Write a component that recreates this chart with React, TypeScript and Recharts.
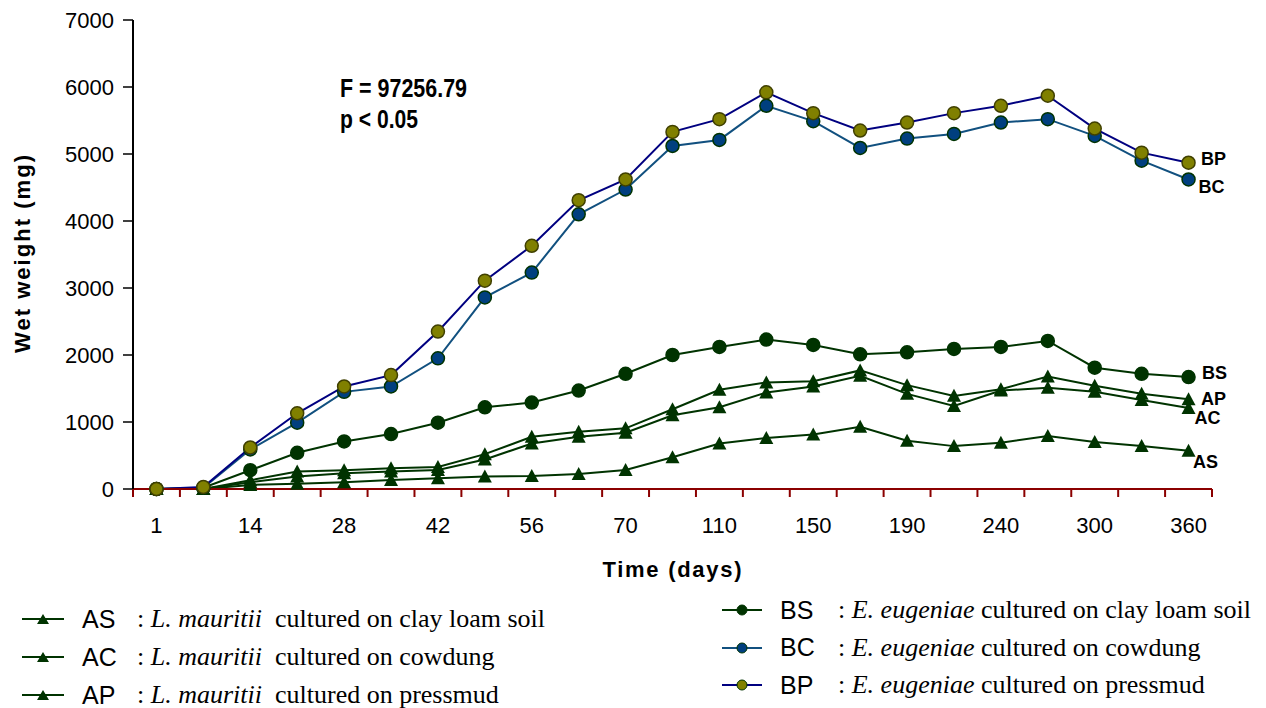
import { LineChart, Line, XAxis, YAxis, LabelList } from 'recharts';

// sampling days (only every other one is labelled on the axis)
const days = [1, 7, 14, 21, 28, 35, 42, 49, 56, 63, 70, 90, 110, 130, 150, 170, 190, 210, 240, 270, 300, 330, 360];

// L. mauritii
const asValues = [0, 0, 60, 80, 100, 135, 160, 185, 195, 225, 285, 475, 680, 760, 815, 930, 720, 640, 690, 790, 700, 640, 570];
const acValues = [0, 0, 100, 185, 235, 260, 285, 440, 680, 780, 840, 1100, 1220, 1440, 1530, 1690, 1420, 1240, 1470, 1510, 1450, 1330, 1210];
const apValues = [0, 0, 130, 260, 280, 310, 330, 520, 780, 855, 905, 1190, 1480, 1590, 1610, 1770, 1550, 1390, 1490, 1680, 1540, 1420, 1340];

// E. eugeniae
const bsValues = [0, 20, 280, 540, 710, 820, 990, 1220, 1290, 1470, 1720, 2000, 2120, 2230, 2150, 2010, 2040, 2090, 2120, 2210, 1810, 1720, 1670];
const bcValues = [0, 20, 590, 990, 1450, 1530, 1950, 2860, 3230, 4100, 4470, 5120, 5210, 5720, 5490, 5090, 5230, 5300, 5470, 5520, 5270, 4900, 4620];
const bpValues = [0, 30, 620, 1130, 1530, 1700, 2350, 3110, 3630, 4310, 4620, 5330, 5520, 5920, 5610, 5350, 5470, 5610, 5720, 5870, 5380, 5020, 4870];

const yTicks = [0, 1000, 2000, 3000, 4000, 5000, 6000, 7000];

const leftLegend = [
  { code: 'AS', text: 'cultured on clay loam soil' },
  { code: 'AC', text: 'cultured on cowdung' },
  { code: 'AP', text: 'cultured on pressmud' },
];
const rightLegend = [
  { code: 'BS', text: 'cultured on clay loam soil', line: '#003300', fill: '#003300' },
  { code: 'BC', text: 'cultured on cowdung', line: '#11507f', fill: '#003f7f' },
  { code: 'BP', text: 'cultured on pressmud', line: '#000080', fill: '#808000' },
];

const data = days.map((day, i) => ({
  idx: i,
  day,
  AS: asValues[i],
  AC: acValues[i],
  AP: apValues[i],
  BS: bsValues[i],
  BC: bcValues[i],
  BP: bpValues[i],
}));

// category centres plus the band edges (edges only get a tick mark)
const xTicks = [-0.5, ...days.flatMap((_, i) => [i, i + 0.5])];

const ARIAL = '"Liberation Sans", Arial, sans-serif';
const NARROW = '"Liberation Sans Narrow", "Arial Narrow", "Liberation Sans", sans-serif';
const TIMES = '"Liberation Serif", "Times New Roman", serif';
const GREEN = '#003300';

function XTick(props: any) {
  const { x, y, payload } = props;
  const v = payload.value;
  if (!Number.isInteger(v)) {
    return <line x1={x} x2={x} y1={y} y2={y + 8} stroke="#8b0000" strokeWidth={2} />;
  }
  if (v % 2 !== 0) return <g />;
  return (
    <text x={x} y={y + 44} textAnchor="middle" fontSize={22} fontFamily={ARIAL} fill="#000">
      {days[v]}
    </text>
  );
}

const circleDot = (fill: string, stroke: string) => (p: any) => (
  <circle key={`c-${p.index}`} cx={p.cx} cy={p.cy} r={6.5} fill={fill} stroke={stroke} strokeWidth={1.5} />
);

const triangleDot = (p: any) => (
  <polygon
    key={`t-${p.index}`}
    points={`${p.cx - 7},${p.cy + 6} ${p.cx + 7},${p.cy + 6} ${p.cx},${p.cy - 7}`}
    fill={GREEN}
  />
);

const endLabel = (text: string, dx: number, dy: number) => (p: any) =>
  p.index === days.length - 1 ? (
    <text
      x={p.x + dx}
      y={p.y + dy}
      textAnchor="middle"
      dominantBaseline="central"
      fontSize={18}
      fontWeight="bold"
      fontFamily={NARROW}
      fill="#000"
    >
      {text}
    </text>
  ) : null;

function LegendRow({ left, top, code, codeWidth, species, text, sample, gap }: any) {
  return (
    <div style={{ position: 'absolute', left, top: top - 17, height: 34, display: 'flex', alignItems: 'center', whiteSpace: 'nowrap' }}>
      {sample}
      <span style={{ fontFamily: ARIAL, fontSize: 25, marginLeft: 4, width: codeWidth }}>{code}</span>
      <span style={{ fontFamily: TIMES, fontSize: 26 }}>
        : <i>{species}</i>
        {gap ? '\u00a0 ' : ' '}
        {text}
      </span>
    </div>
  );
}

export default function App() {
  return (
    <div style={{ position: 'absolute', left: 0, top: 0, width: 1266, height: 708, background: '#fff' }}>
      <LineChart width={1266} height={708} data={data} margin={{ top: 20, right: 54, left: 73, bottom: 159 }}>
        <XAxis
          dataKey="idx"
          type="number"
          domain={[-0.5, days.length - 0.5]}
          ticks={xTicks}
          interval={0}
          height={60}
          tickSize={0}
          tickMargin={0}
          tickLine={false}
          axisLine={{ stroke: '#8b0000', strokeWidth: 2 }}
          tick={<XTick />}
        />
        <YAxis
          domain={[0, 7000]}
          ticks={yTicks}
          width={60}
          tickSize={10}
          tickMargin={9}
          axisLine={{ stroke: '#000', strokeWidth: 2 }}
          tickLine={{ stroke: '#000', strokeWidth: 1.5 }}
          tick={{ fontSize: 22, fontFamily: ARIAL, fill: '#000' }}
        />
        <Line dataKey="AS" stroke={GREEN} strokeWidth={2} dot={triangleDot} isAnimationActive={false}>
          <LabelList dataKey="AS" content={endLabel('AS', 17, 11)} />
        </Line>
        <Line dataKey="AC" stroke={GREEN} strokeWidth={2} dot={triangleDot} isAnimationActive={false}>
          <LabelList dataKey="AC" content={endLabel('AC', 19, 10)} />
        </Line>
        <Line dataKey="AP" stroke={GREEN} strokeWidth={2} dot={triangleDot} isAnimationActive={false}>
          <LabelList dataKey="AP" content={endLabel('AP', 25, 0)} />
        </Line>
        <Line dataKey="BS" stroke={GREEN} strokeWidth={2} dot={circleDot(GREEN, GREEN)} isAnimationActive={false}>
          <LabelList dataKey="BS" content={endLabel('BS', 26, -4)} />
        </Line>
        <Line dataKey="BC" stroke="#11507f" strokeWidth={2} dot={circleDot('#003f7f', '#003300')} isAnimationActive={false}>
          <LabelList dataKey="BC" content={endLabel('BC', 23, 8)} />
        </Line>
        <Line dataKey="BP" stroke="#000080" strokeWidth={2} dot={circleDot('#808000', '#404000')} isAnimationActive={false}>
          <LabelList dataKey="BP" content={endLabel('BP', 25, -4)} />
        </Line>
      </LineChart>

      <svg width={1266} height={708} style={{ position: 'absolute', left: 0, top: 0, pointerEvents: 'none' }}>
        <text x={340} y={97} fontSize={26} fontWeight="bold" fontFamily={NARROW} textLength={127} lengthAdjust="spacingAndGlyphs">
          F = 97256.79
        </text>
        <text x={340} y={128} fontSize={26} fontWeight="bold" fontFamily={NARROW} textLength={78} lengthAdjust="spacingAndGlyphs">
          p &lt; 0.05
        </text>
        <text x={672} y={577} textAnchor="middle" fontSize={22} fontWeight="bold" fontFamily={ARIAL} textLength={139} lengthAdjust="spacing">
          Time (days)
        </text>
        <text
          x={30}
          y={254}
          transform="rotate(-90, 30, 254)"
          textAnchor="middle"
          fontSize={22}
          fontWeight="bold"
          fontFamily={ARIAL}
          textLength={198}
          lengthAdjust="spacing"
        >
          Wet weight (mg)
        </text>
      </svg>

      {leftLegend.map((r, i) => (
        <LegendRow
          key={r.code}
          left={20}
          top={619 + i * 38}
          code={r.code}
          codeWidth={55}
          species="L. mauritii"
          text={r.text}
          gap
          sample={
            <svg width={58} height={20}>
              <line x1={2} x2={44} y1={10} y2={10} stroke={GREEN} strokeWidth={2} />
              <polygon points="17,15 29,15 23,5" fill={GREEN} />
            </svg>
          }
        />
      ))}
      {rightLegend.map((r, i) => (
        <LegendRow
          key={r.code}
          left={720}
          top={610 + i * 37.5}
          code={r.code}
          codeWidth={58}
          species="E. eugeniae"
          text={r.text}
          sample={
            <svg width={56} height={20}>
              <line x1={2} x2={42} y1={10} y2={10} stroke={r.line} strokeWidth={2} />
              <circle cx={22} cy={10} r={5} fill={r.fill} stroke="#003300" strokeWidth={1} />
            </svg>
          }
        />
      ))}
    </div>
  );
}
